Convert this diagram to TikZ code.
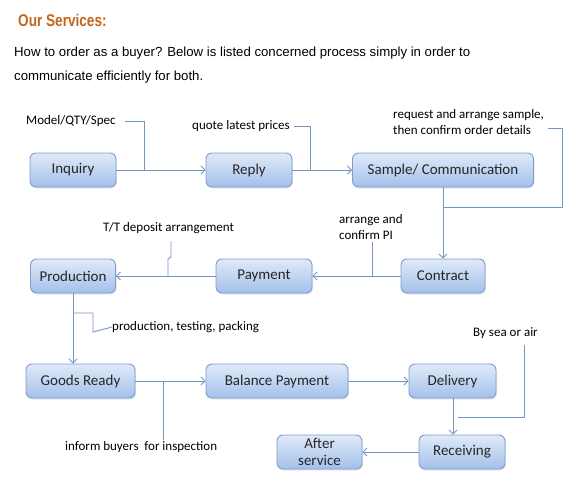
\documentclass[tikz,border=0pt]{standalone}
\usepackage{fontspec}
\setmainfont{Carlito}
\newfontfamily\headfont{Liberation Sans}
\newfontfamily\titlefont[FakeStretch=0.8]{Liberation Sans}
\usepackage{xcolor}
\usetikzlibrary{arrows.meta, positioning, shadows}
\definecolor{boxtop}{HTML}{E0EAF8}
\definecolor{boxbot}{HTML}{A3C0EB}
\definecolor{boxline}{HTML}{7F9CCB}
\definecolor{linkblue}{HTML}{7596C2}
\definecolor{titleorange}{HTML}{C4651C}
\tikzset{
  stage/.style={rectangle, rounded corners=6pt, draw=boxline, line width=0.9pt,
    top color=boxtop, bottom color=boxbot, font=\fontsize{15}{17}\selectfont,
    text=black!85, align=center, minimum height=34pt, inner sep=2pt,
    drop shadow={opacity=0.2, shadow xshift=1pt, shadow yshift=-1.5pt}},
  note/.style={font=\fontsize{13}{16}\selectfont, align=left, inner sep=0pt, anchor=west},
  link/.style={draw=linkblue, line width=0.9pt},
  flow/.style={link, -{Straight Barb[length=4pt, width=8pt]}}
}

\begin{document}
\begin{tikzpicture}[x=1pt, y=-1pt]
  \useasboundingbox (0,0) rectangle (580,484);
  % heading
  \node[anchor=west, inner sep=0pt, text=titleorange,
    font=\titlefont\bfseries\fontsize{17}{20}\selectfont] (title) at (18,20) {Our Services:};
  \node[anchor=west, inner sep=0pt, font=\headfont\fontsize{13.2}{24}\selectfont] (intro1) at (14,53)
    {How to order as a buyer? Below is listed concerned process simply in order to};
  \node[anchor=west, inner sep=0pt, font=\headfont\fontsize{13.2}{24}\selectfont] (intro2) at (14,77)
    {communicate efficiently for both.};

  % first row
  \node[stage, minimum width=86pt] (inquiry) at (73,170) {Inquiry};
  \node[stage, minimum width=86pt] (reply) at (249,170) {Reply};
  \node[stage, minimum width=181pt] (sample) at (443,170) {Sample/ Communication};
  % second row
  \node[stage, minimum width=84pt] (contract) at (443,276) {Contract};
  \node[stage, minimum width=96pt] (payment) at (264,276) {Payment};
  \node[stage, minimum width=85pt] (production) at (73,276) {Production};
  % third row
  \node[stage, minimum width=109pt] (goods) at (80.5,381) {Goods Ready};
  \node[stage, minimum width=142pt] (balance) at (277,381) {Balance Payment};
  \node[stage, minimum width=87pt] (delivery) at (452.5,381) {Delivery};
  % last row
  \node[stage, minimum width=86pt] (receiving) at (462,452) {Receiving};
  \node[stage, minimum width=85pt, font=\fontsize{15}{17}\selectfont] (after) at (319.5,452) {After\\service};

  % notes
  \node[note] (spec) at (26,121) {Model/QTY/Spec};
  \node[note] (quote) at (192,126) {quote latest prices};
  \node[note] (request) at (393,122) {request and arrange sample,\\then confirm order details};
  \node[note] (confirm) at (339,227) {arrange and\\confirm PI};
  \node[note] (deposit) at (103,228) {T/T deposit arrangement};
  \node[note] (packing) at (112,327) {production, testing, packing};
  \node[note] (inform) at (65,447) {inform buyers\ \ for inspection};
  \node[note] (sea) at (473,333) {By sea or air};

  % joints
  \coordinate (j1) at (144,170);
  \coordinate (j2) at (310,170);
  \coordinate (r1) at (548,128);
  \coordinate (r2) at (562,207);
  \coordinate (r3) at (443,207);
  \coordinate (c1) at (372,242);
  \coordinate (c2) at (372,276);
  \coordinate (t1) at (171,241);
  \coordinate (t2) at (168,276);
  \coordinate (p1) at (73,313);
  \coordinate (p2) at (93,332);
  \coordinate (i1) at (163,440);
  \coordinate (i2) at (163,381);
  \coordinate (s1) at (524,345);
  \coordinate (s2) at (458,417);

  % main flow
  \draw[flow] (inquiry) -- (reply);
  \draw[flow] (reply) -- (sample);
  \draw[flow] (sample.south) -- (contract.north);
  \draw[flow] (contract) -- (payment);
  \draw[flow] (payment) -- (production);
  \draw[flow] (production.south) -- (production.south |- goods.north);
  \draw[flow] (goods) -- (balance);
  \draw[flow] (balance) -- (delivery);
  \draw[flow] (delivery.south -| 453,0) -- (receiving.north -| 453,0);
  \draw[flow] (receiving) -- (after);

  % note leaders
  \draw[link] ([xshift=9pt]spec.east) -| (j1);
  \draw[link] ([xshift=4pt]quote.east) -| (j2);
  \draw[link] (r1) -| (r2) -- (r3);
  \draw[link] (c1) -- (c2);
  \draw[link] (t1) -- ++(0,16) -- ++(-3,2) -- (t2);
  \draw[link] (p1) -| (p2) -- (packing.west);
  \draw[link] (i1) -- (i2);
  \draw[link] (s1) |- (s2);
\end{tikzpicture}
\end{document}
